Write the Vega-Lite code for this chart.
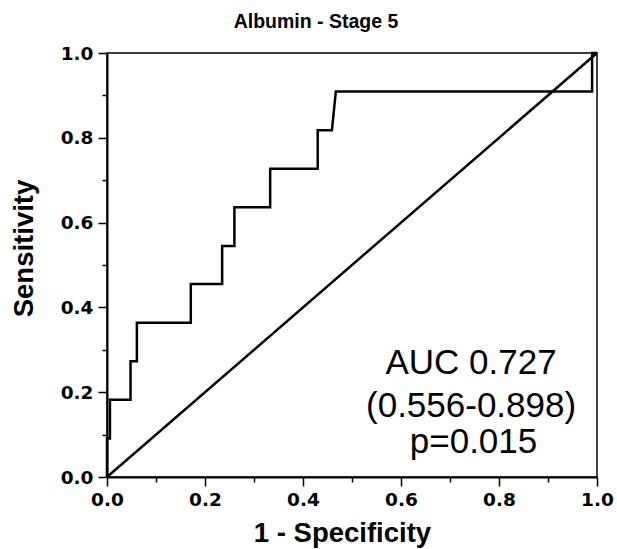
{
  "$schema": "https://vega.github.io/schema/vega-lite/v6.json",
  "width": 490,
  "height": 424,
  "autosize": "none",
  "padding": {"left": 107, "top": 53, "right": 20, "bottom": 72},
  "background": "white",
  "config": {
    "font": "Liberation Sans",
    "view": {"stroke": "black", "strokeWidth": 1.5}
  },
  "title": {
    "text": "Albumin - Stage 5",
    "font": "Liberation Sans",
    "fontSize": 19.5,
    "fontWeight": "bold",
    "color": "black",
    "anchor": "middle",
    "frame": "group",
    "baseline": "alphabetic",
    "offset": 25,
    "dx": -36,
    "dy": 28
  },
  "datasets": {
    "roc": [
      {"step": 0, "fpr": 0.0, "tpr": 0.0},
      {"step": 1, "fpr": 0.0, "tpr": 0.091},
      {"step": 2, "fpr": 0.006, "tpr": 0.091},
      {"step": 3, "fpr": 0.006, "tpr": 0.182},
      {"step": 4, "fpr": 0.048, "tpr": 0.182},
      {"step": 5, "fpr": 0.048, "tpr": 0.273},
      {"step": 6, "fpr": 0.061, "tpr": 0.273},
      {"step": 7, "fpr": 0.061, "tpr": 0.364},
      {"step": 8, "fpr": 0.171, "tpr": 0.364},
      {"step": 9, "fpr": 0.171, "tpr": 0.455},
      {"step": 10, "fpr": 0.235, "tpr": 0.455},
      {"step": 11, "fpr": 0.235, "tpr": 0.545},
      {"step": 12, "fpr": 0.26, "tpr": 0.545},
      {"step": 13, "fpr": 0.26, "tpr": 0.636},
      {"step": 14, "fpr": 0.333, "tpr": 0.636},
      {"step": 15, "fpr": 0.333, "tpr": 0.727},
      {"step": 16, "fpr": 0.43, "tpr": 0.727},
      {"step": 17, "fpr": 0.43, "tpr": 0.818},
      {"step": 18, "fpr": 0.459, "tpr": 0.818},
      {"step": 19, "fpr": 0.467, "tpr": 0.909},
      {"step": 20, "fpr": 0.99, "tpr": 0.909},
      {"step": 21, "fpr": 0.99, "tpr": 1.0},
      {"step": 22, "fpr": 1.0, "tpr": 1.0}
    ],
    "diag": [
      {"fpr": 0.0, "tpr": 0.0},
      {"fpr": 1.0, "tpr": 1.0}
    ],
    "notes": [
      {"line": "AUC 0.727", "fpr": 0.743, "tpr": 0.243},
      {"line": "(0.556-0.898)", "fpr": 0.743, "tpr": 0.142},
      {"line": "p=0.015", "fpr": 0.748, "tpr": 0.057}
    ]
  },
  "encoding": {
    "x": {
      "field": "fpr",
      "type": "quantitative",
      "scale": {"domain": [0, 1], "nice": false, "zero": false},
      "axis": {
        "title": "1 - Specificity",
        "values": [0, 0.1, 0.2, 0.3, 0.4, 0.5, 0.6, 0.7, 0.8, 0.9, 1.0],
        "labelExpr": "round(datum.value*10) % 2 === 0 ? format(datum.value, '.1f') : ''",
        "grid": false,
        "domainColor": "black",
        "domainWidth": 2,
        "tickColor": "black",
        "tickWidth": 1.5,
        "tickSize": {"condition": {"test": "round(datum.value*10) % 2 === 0", "value": 9}, "value": 5},
        "labelFont": "DejaVu Sans",
        "labelFontWeight": "bold",
        "labelFontSize": 18.5,
        "labelColor": "black",
        "labelPadding": 4,
        "labelFlush": false,
        "titleFont": "Liberation Sans",
        "titleFontWeight": "bold",
        "titleFontSize": 27.5,
        "titleColor": "black",
        "titleBaseline": "alphabetic",
        "titleX": 235,
        "titleY": 64
      }
    },
    "y": {
      "field": "tpr",
      "type": "quantitative",
      "scale": {"domain": [0, 1], "nice": false, "zero": false},
      "axis": {
        "title": "Sensitivity",
        "values": [0, 0.1, 0.2, 0.3, 0.4, 0.5, 0.6, 0.7, 0.8, 0.9, 1.0],
        "labelExpr": "round(datum.value*10) % 2 === 0 ? format(datum.value, '.1f') : ''",
        "grid": false,
        "domainColor": "black",
        "domainWidth": 2,
        "tickColor": "black",
        "tickWidth": 1.5,
        "tickSize": {"condition": {"test": "round(datum.value*10) % 2 === 0", "value": 9}, "value": 5},
        "labelFont": "DejaVu Sans",
        "labelFontWeight": "bold",
        "labelFontSize": 18.5,
        "labelColor": "black",
        "labelPadding": 5,
        "labelFlush": false,
        "titleFont": "Liberation Sans",
        "titleFontWeight": "bold",
        "titleFontSize": 27.5,
        "titleColor": "black",
        "titleAngle": -90,
        "titleBaseline": "bottom",
        "titleAlign": "center",
        "titleX": -69,
        "titleY": 195
      }
    }
  },
  "layer": [
    {
      "data": {"name": "diag"},
      "mark": {"type": "line", "color": "black", "strokeWidth": 2.5},
      "encoding": {}
    },
    {
      "data": {"name": "roc"},
      "mark": {"type": "line", "color": "black", "strokeWidth": 2.5},
      "encoding": {"order": {"field": "step", "type": "quantitative"}}
    },
    {
      "data": {"name": "notes"},
      "mark": {"type": "text", "font": "Liberation Sans", "fontSize": 35, "color": "black", "align": "center", "baseline": "alphabetic"},
      "encoding": {"text": {"field": "line", "type": "nominal"}}
    }
  ]
}
